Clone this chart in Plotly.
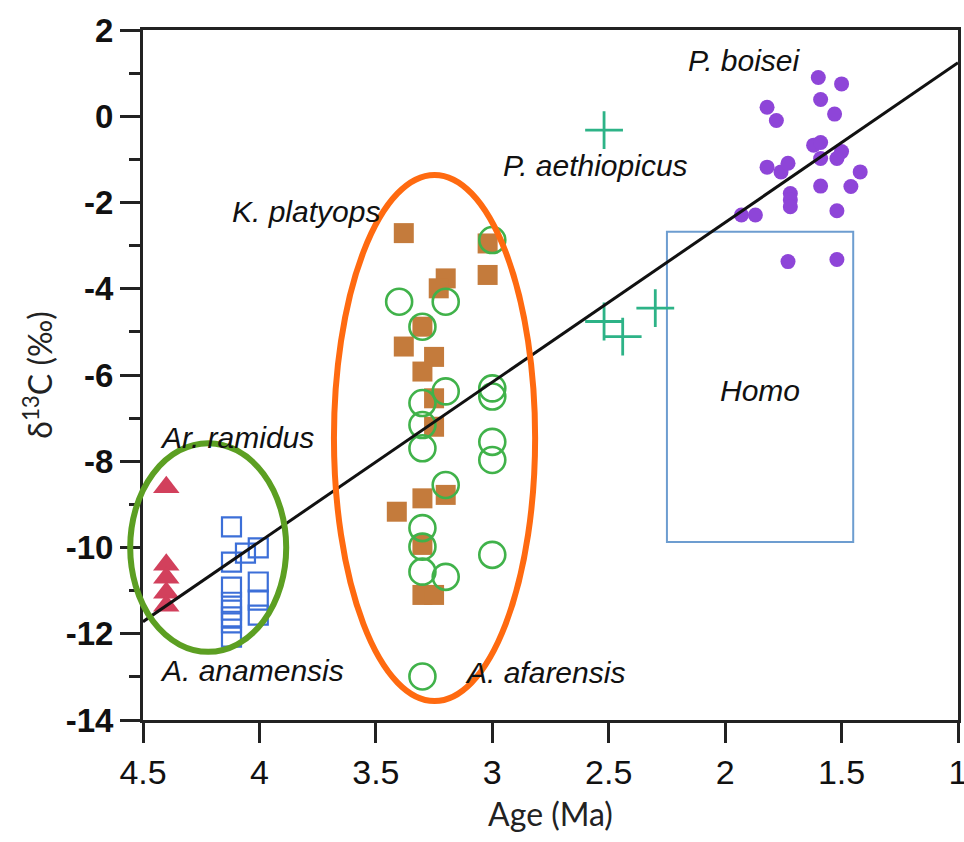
import plotly.graph_objects as go

# --- Ar. ramidus (age in Ma, d13C in permil) ---
ramidus_age = [4.40, 4.40, 4.40, 4.40, 4.40]
ramidus_d13c = [-8.6, -10.4, -10.7, -11.05, -11.35]

# --- A. anamensis ---
anamensis_age = [4.12, 4.12, 4.12, 4.12, 4.12, 4.12, 4.12, 4.12,
                 4.06, 4.005, 4.005, 4.005, 4.005]
anamensis_d13c = [-9.52, -10.34, -10.92, -11.27, -11.45, -11.61, -11.75, -12.08,
                  -10.13, -10.01, -10.80, -11.22, -11.57]

# --- K. platyops ---
platyops_age = [3.38, 3.02, 3.02, 3.20, 3.23, 3.30, 3.38, 3.25, 3.30,
                3.25, 3.25, 3.20, 3.30, 3.41, 3.30, 3.30, 3.25]
platyops_d13c = [-2.71, -2.95, -3.68, -3.76, -3.99, -4.88, -5.34, -5.58, -5.92,
                 -6.54, -7.20, -8.78, -8.86, -9.17, -9.94, -11.10, -11.10]

# --- A. afarensis ---
afarensis_age = [3.00, 3.40, 3.20, 3.30, 3.20, 3.00, 3.00, 3.30, 3.30, 3.30,
                 3.00, 3.00, 3.20, 3.30, 3.30, 3.30, 3.20, 3.00, 3.30]
afarensis_d13c = [-2.87, -4.30, -4.30, -4.88, -6.38, -6.31, -6.50, -6.65, -7.16, -7.70,
                  -7.55, -7.97, -8.55, -9.55, -9.98, -10.56, -10.68, -10.17, -12.99]

# --- P. aethiopicus ---
aethiopicus_age = [2.52, 2.52, 2.44, 2.30]
aethiopicus_d13c = [-0.32, -4.76, -5.11, -4.45]

# --- P. boisei ---
boisei_age = [1.60, 1.50, 1.59, 1.53, 1.82, 1.78, 1.62, 1.59, 1.59, 1.50, 1.52, 1.82, 1.76,
              1.73, 1.42, 1.59, 1.46, 1.72, 1.72, 1.72, 1.52, 1.93, 1.87, 1.73, 1.52]
boisei_d13c = [0.90, 0.75, 0.39, 0.05, 0.21, -0.10, -0.67, -0.61, -0.98, -0.82, -0.98, -1.18, -1.29,
               -1.09, -1.29, -1.62, -1.63, -1.79, -1.94, -2.10, -2.19, -2.29, -2.29, -3.37, -3.32]

# --- trend line ---
trend_age = [4.5, 1.0]
trend_d13c = [-11.72, 1.24]

# --- Homo range (age span, d13C span) ---
homo_age = [2.25, 1.45]
homo_d13c = [-9.87, -2.68]

# --- group ellipses: centre (age, d13C), half-widths (Ma, permil) ---
early_ellipse = dict(age=4.22, d13c=-10.0, r_age=0.335, r_d13c=2.42)
afar_ellipse = dict(age=3.248, d13c=-7.46, r_age=0.432, r_d13c=6.10)

# axis ranges and ticks
x_range = [4.5, 1.0]
y_range = [-14, 2]
x_ticks = [4.5, 4, 3.5, 3, 2.5, 2, 1.5, 1]
x_ticklabels = ["4.5", "4", "3.5", "3", "2.5", "2", "1.5", "1"]
y_ticks = [2, 0, -2, -4, -6, -8, -10, -12, -14]
y_ticklabels = ["2", "0", "-2", "-4", "-6", "-8", "-10", "-12", "-14"]

# labels: (text, age, d13C)
labels = [
    ("P. boisei", 1.915, 1.30),
    ("P. aethiopicus", 2.555, -1.15),
    ("K. platyops", 3.80, -2.22),
    ("Ar. ramidus", 4.096, -7.46),
    ("A. anamensis", 4.032, -12.86),
    ("A. afarensis", 2.774, -12.91),
    ("Homo", 1.85, -6.37),
]


def to_paper_x(age):
    return (x_range[0] - age) / (x_range[0] - x_range[1])


def to_paper_y(v):
    return (v - y_range[0]) / (y_range[1] - y_range[0])


fig = go.Figure()

fig.add_trace(go.Scatter(
    x=ramidus_age, y=ramidus_d13c, mode="markers", name="Ar. ramidus",
    marker=dict(symbol="triangle-up", size=23, color="#d2405c", line=dict(width=0)),
))
fig.add_trace(go.Scatter(
    x=anamensis_age, y=anamensis_d13c, mode="markers", name="A. anamensis",
    marker=dict(symbol="square-open", size=19, color="#3c6fd8", line=dict(width=2.2)),
))
fig.add_trace(go.Scatter(
    x=platyops_age, y=platyops_d13c, mode="markers", name="K. platyops",
    marker=dict(symbol="square", size=20, color="#c47b3c", line=dict(width=0)),
))
fig.add_trace(go.Scatter(
    x=afarensis_age, y=afarensis_d13c, mode="markers", name="A. afarensis",
    marker=dict(symbol="circle-open", size=26, color="#40b24a", line=dict(width=2.6)),
))
fig.add_trace(go.Scatter(
    x=aethiopicus_age, y=aethiopicus_d13c, mode="markers", name="P. aethiopicus",
    marker=dict(symbol="cross-thin-open", size=27, color="#2db387", line=dict(width=2.8)),
))
fig.add_trace(go.Scatter(
    x=boisei_age, y=boisei_d13c, mode="markers", name="P. boisei",
    marker=dict(symbol="circle", size=15, color="#8e45d8", line=dict(width=0)),
))
fig.add_trace(go.Scatter(
    x=trend_age, y=trend_d13c, mode="lines", name="trend",
    line=dict(color="#111111", width=3),
))

shapes = [
    dict(type="rect", xref="x", yref="y", layer="below",
         x0=homo_age[0], x1=homo_age[1], y0=homo_d13c[0], y1=homo_d13c[1],
         line=dict(color="#6d9dd0", width=2)),
]
for ell, col in [(early_ellipse, "#5c9f22"), (afar_ellipse, "#ff6a10")]:
    shapes.append(dict(
        type="circle", xref="paper", yref="paper",
        x0=to_paper_x(ell["age"] + ell["r_age"]), x1=to_paper_x(ell["age"] - ell["r_age"]),
        y0=to_paper_y(ell["d13c"] - ell["r_d13c"]), y1=to_paper_y(ell["d13c"] + ell["r_d13c"]),
        line=dict(color=col, width=6),
    ))

annotations = [
    dict(text=t, x=a, y=v, xref="x", yref="y", showarrow=False,
         font=dict(family="Liberation Sans, Arial, sans-serif", size=30, color="#111111",
                   style="italic"))
    for t, a, v in labels
]

fig.update_layout(
    width=964, height=842,
    margin=dict(l=143, r=6, t=30, b=122, autoexpand=False),
    paper_bgcolor="white", plot_bgcolor="white",
    showlegend=False,
    shapes=shapes,
    annotations=annotations,
    xaxis=dict(
        range=x_range, tickvals=x_ticks, ticktext=x_ticklabels,
        showgrid=False, zeroline=False, automargin=False,
        showline=True, linecolor="#222222", linewidth=3, mirror=True,
        ticks="outside", ticklen=20, tickwidth=2.5, tickcolor="#222222",
        ticklabeloverflow="allow",
        tickfont=dict(family="Liberation Sans Narrow, Arial Narrow, Liberation Sans, sans-serif",
                      size=34, color="#111111"),
        title=dict(text="Age (Ma)", standoff=14,
                   font=dict(family="Lato, Open Sans, sans-serif", size=32, color="#222222")),
    ),
    yaxis=dict(
        range=y_range, tickvals=y_ticks, ticktext=y_ticklabels,
        showgrid=False, zeroline=False, automargin=False,
        showline=True, linecolor="#222222", linewidth=3, mirror=True,
        ticks="outside", ticklen=20, tickwidth=2.5, tickcolor="#222222",
        minor=dict(dtick=1, ticks="outside", ticklen=11, tickwidth=2.5, tickcolor="#222222",
                   showgrid=False),
        tickfont=dict(family="Liberation Sans, Arial, sans-serif", size=33, color="#111111",
                      weight="bold"),
        title=dict(text="δ<sup>13</sup>C (‰)", standoff=4,
                   font=dict(family="Lato, Open Sans, sans-serif", size=32, color="#222222")),
    ),
)

fig.write_html("out.html")
